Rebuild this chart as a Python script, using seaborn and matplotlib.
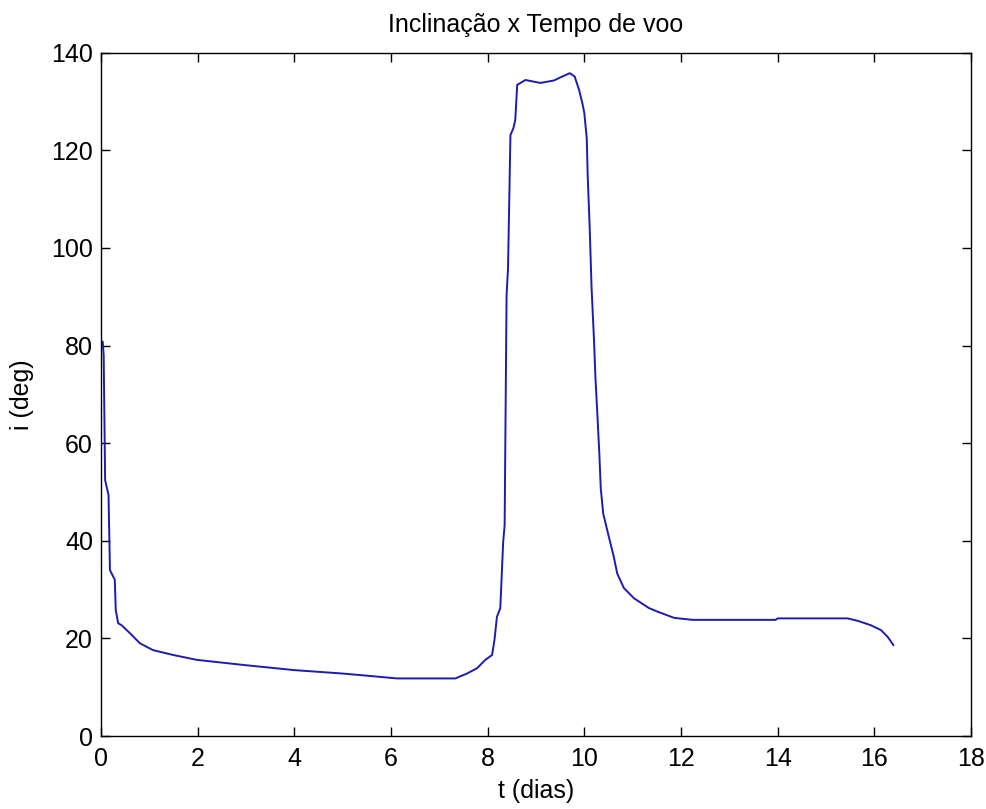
import matplotlib
matplotlib.use("Agg")
import matplotlib.pyplot as plt
import seaborn as sns
import pandas as pd

# Flight time (days) and orbital inclination (degrees)
t_days = [0.03, 0.05, 0.08, 0.15, 0.18, 0.23, 0.28, 0.30, 0.35, 0.42, 0.6, 0.8,
          1.07, 1.49, 1.98, 3.0, 4.0, 5.0, 5.57, 6.12, 7.33, 7.57, 7.78, 7.95,
          8.09, 8.14, 8.19, 8.26, 8.32, 8.35, 8.39, 8.42, 8.47, 8.53, 8.57, 8.61,
          8.78, 9.09, 9.37, 9.54, 9.70, 9.80, 9.89, 9.96, 10.0, 10.05, 10.07,
          10.11, 10.15, 10.2, 10.23, 10.27, 10.31, 10.34, 10.39, 10.49, 10.61,
          10.68, 10.82, 11.03, 11.34, 11.51, 11.86, 12.24, 13.96, 14.0, 15.45,
          15.66, 15.93, 16.14, 16.28, 16.4]
incl_deg = [80.8, 78.0, 52.4, 49.4, 34.0, 33.0, 32.0, 25.8, 23.1, 22.7, 21.0, 19.0,
            17.6, 16.6, 15.6, 14.5, 13.5, 12.8, 12.3, 11.8, 11.8, 12.8, 13.9, 15.6,
            16.6, 19.7, 24.4, 26.2, 39.8, 43.2, 90.3, 95.8, 123.1, 124.5, 126.2, 133.4,
            134.4, 133.8, 134.3, 135.1, 135.8, 135.1, 132.4, 129.6, 127.6, 122.4, 114.6,
            104.3, 91.7, 81.1, 73.3, 65.8, 57.9, 50.7, 45.6, 41.5, 36.7,
            33.3, 30.3, 28.2, 26.2, 25.5, 24.2, 23.8, 23.8, 24.1, 24.1,
            23.6, 22.7, 21.7, 20.3, 18.6]

x_ticks = [0, 2, 4, 6, 8, 10, 12, 14, 16, 18]
y_ticks = [0, 20, 40, 60, 80, 100, 120, 140]

sns.set_style("ticks")
plt.rcParams["font.family"] = ["Liberation Sans", "DejaVu Sans"]
plt.rcParams["text.color"] = "black"
plt.rcParams["axes.labelcolor"] = "black"

df = pd.DataFrame({"t": t_days, "i": incl_deg})

fig = plt.figure(figsize=(9.87, 8.09), dpi=100)
ax = fig.add_axes([0.1026, 0.0902, 0.8810, 0.8447])

sns.lineplot(data=df, x="t", y="i", sort=False, estimator=None,
             color="#1c1cb0", linewidth=1.4, ax=ax)

ax.set_xlim(0, 18)
ax.set_ylim(0, 140)
ax.set_xticks(x_ticks)
ax.set_yticks(y_ticks)
ax.tick_params(direction="in", length=6.5, width=1, labelsize=18,
               top=True, right=True, colors="black")
ax.tick_params(axis="x", pad=8)
ax.tick_params(axis="y", pad=6)
for s in ax.spines.values():
    s.set_visible(True)
    s.set_linewidth(1)
    s.set_color("black")

ax.set_title("Inclinação x Tempo de voo", fontsize=18, pad=15, color="black")
ax.set_xlabel("t (dias)", fontsize=18, labelpad=6)
ax.set_ylabel("i (deg)", fontsize=18, labelpad=12)

fig.savefig("out.png", dpi=100, facecolor="white")
